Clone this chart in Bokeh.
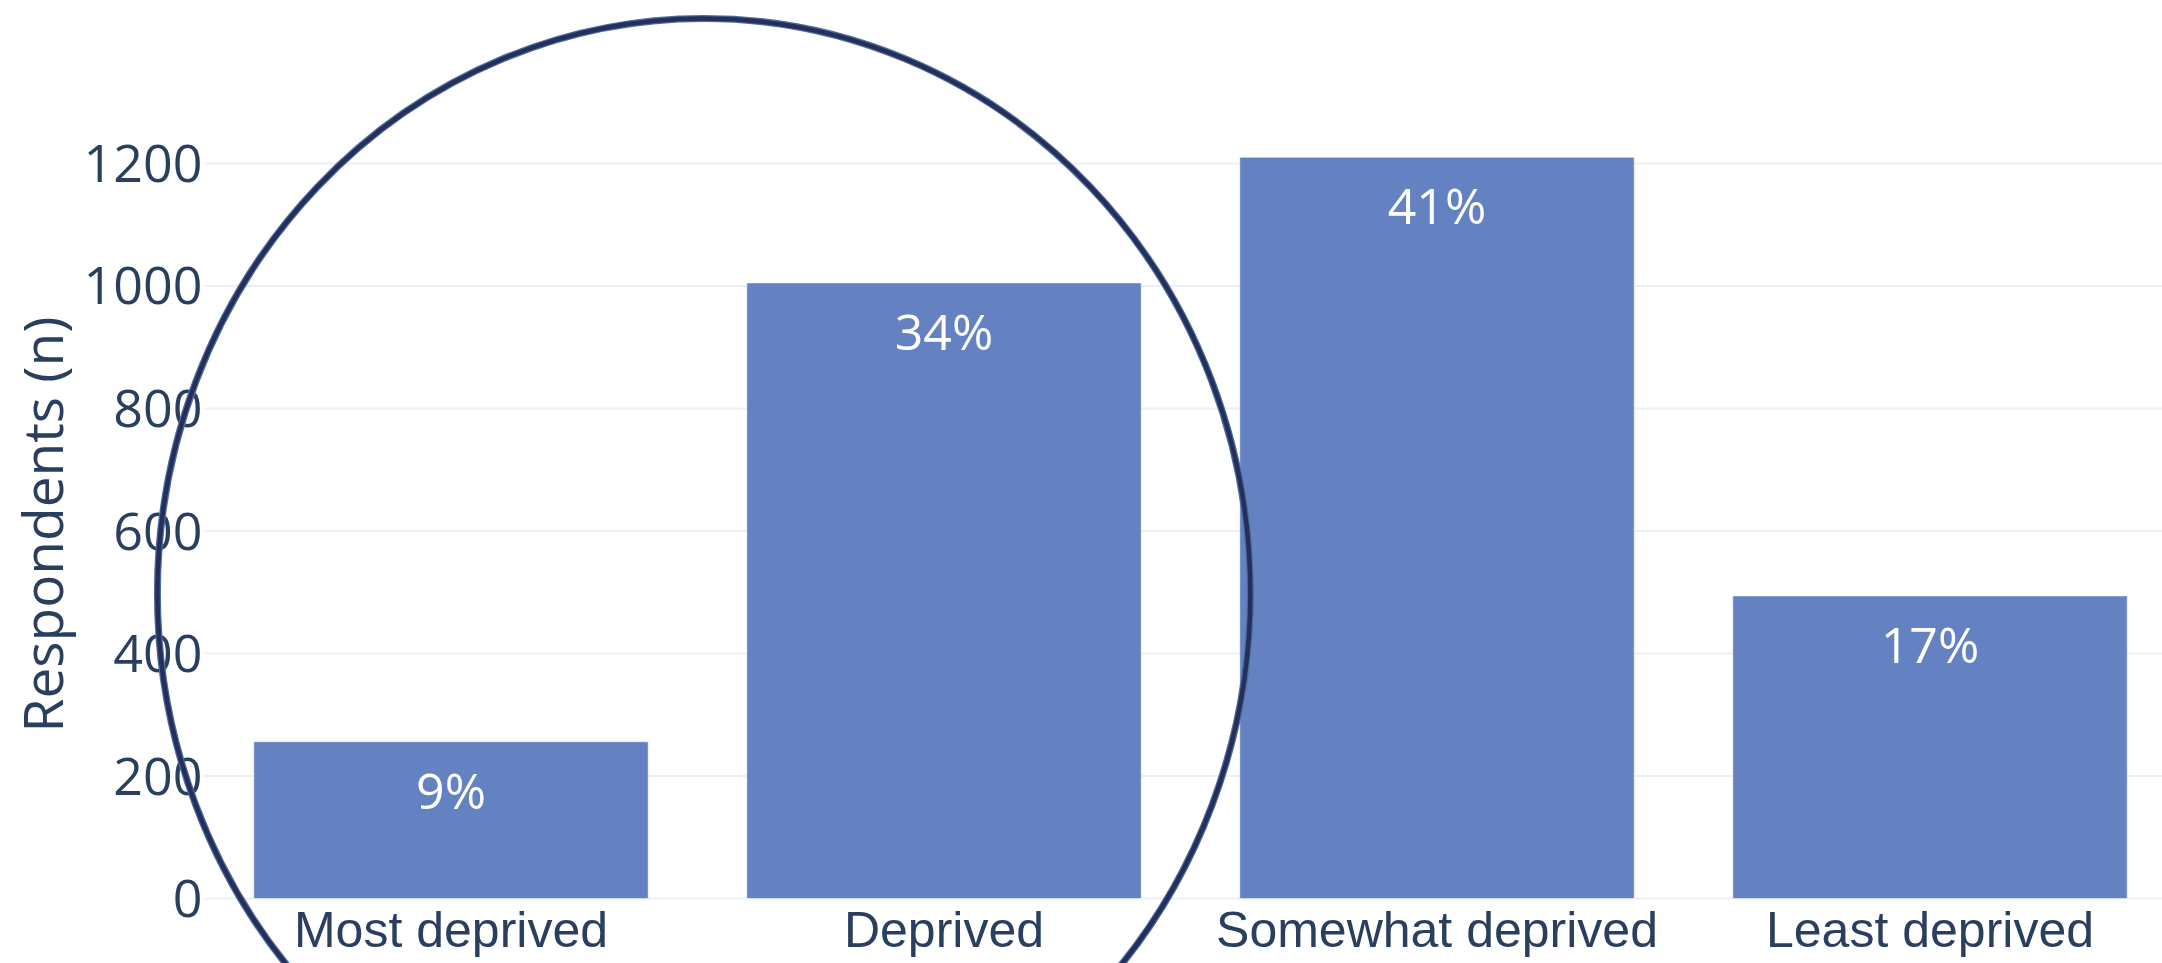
import numpy as np
from bokeh.plotting import figure
from bokeh.models import Range1d, FixedTicker
from bokeh.core.properties import value
from bokeh.embed import file_html
from bokeh.resources import INLINE

# ---- data ----
categories = ["Most deprived", "Deprived", "Somewhat deprived", "Least deprived"]
respondents = [256, 1005, 1210, 494]
pct_labels = ["9%", "34%", "41%", "17%"]
y_ticks = [0, 200, 400, 600, 800, 1000, 1200]
y_title = "Respondents (n)"

xs = list(range(len(categories)))

W, H = 2162, 963
# the frame fills the whole canvas; axes are pinned inside it (fixed_location)
p = figure(width=W, height=H, output_backend="svg", toolbar_location=None,
           x_range=Range1d(-0.9138, 3.4716), y_range=Range1d(-106.1, 1466.1),
           min_border=0)
p.outline_line_color = None
p.background_fill_color = "white"
p.border_fill_color = "white"

TEXT_COLOR = "#2a3f5f"
GRID_COLOR = "#EBF0F8"

# horizontal grid lines across the plotting area only
p.segment(x0=[-0.5] * len(y_ticks), x1=[3.5] * len(y_ticks), y0=y_ticks, y1=y_ticks,
          line_color=GRID_COLOR, line_width=2)

# bars
p.vbar(x=xs, top=respondents, bottom=0, width=0.8, fill_color="#6482C1",
       line_color="white", line_alpha=0.5, line_width=1)

# percentage labels inside bars
p.text(x=xs, y=respondents, text=pct_labels, text_align="center",
       text_baseline="middle", y_offset=48, text_color="white",
       text_font=value("Open Sans"), text_font_size="50px")

p.xgrid.visible = False
p.ygrid.visible = False

# y axis
p.yaxis.fixed_location = -0.5
p.yaxis.bounds = (0, 1221)
p.yaxis.ticker = FixedTicker(ticks=y_ticks)
p.yaxis.axis_line_color = None
p.yaxis.major_tick_line_color = None
p.yaxis.minor_tick_line_color = None
p.yaxis.major_tick_out = 0
p.yaxis.major_tick_in = 0
p.yaxis.major_label_standoff = 2
p.yaxis.major_label_text_font = "Open Sans"
p.yaxis.major_label_text_font_size = "52px"
p.yaxis.major_label_text_color = TEXT_COLOR
p.yaxis.axis_label = y_title
p.yaxis.axis_label_text_font = "Open Sans"
p.yaxis.axis_label_text_font_size = "55px"
p.yaxis.axis_label_text_font_style = "normal"
p.yaxis.axis_label_text_color = TEXT_COLOR
p.yaxis.axis_label_standoff = 2

# x axis
p.xaxis.fixed_location = 0
p.xaxis.ticker = FixedTicker(ticks=xs)
p.xaxis.major_label_overrides = {i: c for i, c in enumerate(categories)}
p.xaxis.axis_line_color = None
p.xaxis.major_tick_line_color = None
p.xaxis.minor_tick_line_color = None
p.xaxis.major_tick_out = 0
p.xaxis.major_tick_in = 0
p.xaxis.major_label_standoff = 3
p.xaxis.major_label_text_font = "Liberation Sans"
p.xaxis.major_label_text_font_size = "50px"
p.xaxis.major_label_text_color = TEXT_COLOR

# highlight ellipse around the first two categories (drawn over everything)
cx, cy = 0.513, 498.0
ew, eh = 2.217, 1877.6
p.ellipse(x=[cx], y=[cy], width=[ew], height=[eh], fill_alpha=0,
          line_color="#4a6d9c", line_width=7, level="overlay")
p.ellipse(x=[cx], y=[cy], width=[ew], height=[eh], fill_alpha=0,
          line_color="#262f5c", line_width=4.5, level="overlay")

open("out.html", "w").write(file_html(p, INLINE))
